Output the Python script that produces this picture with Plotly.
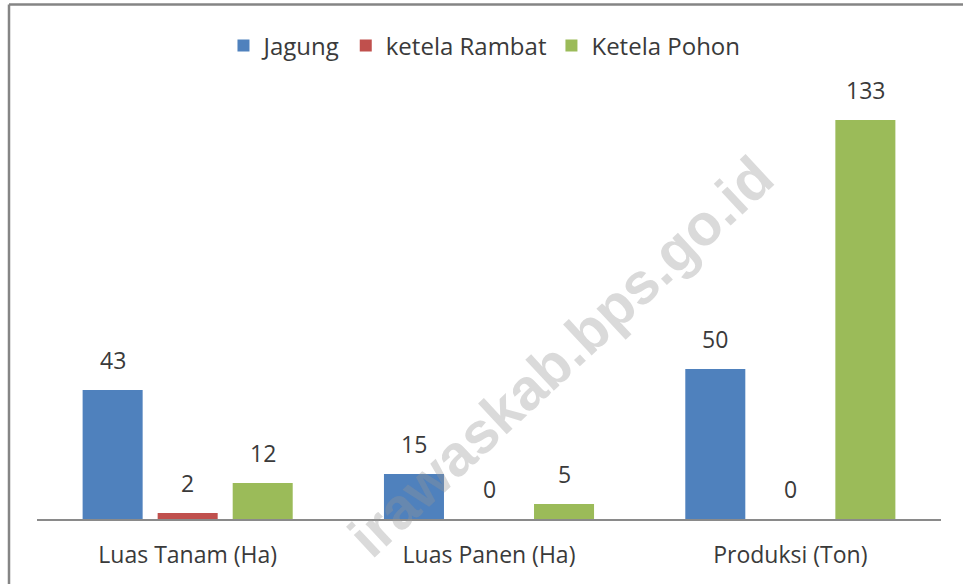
import plotly.graph_objects as go

categories = ["Luas Tanam (Ha)", "Luas Panen (Ha)", "Produksi (Ton)"]
series_names = ["Jagung", "ketela Rambat", "Ketela Pohon"]
jagung = [43, 15, 50]
ketela_rambat = [2, 0, 0]
ketela_pohon = [12, 5, 133]
series_values = [jagung, ketela_rambat, ketela_pohon]
colors = ["#4F81BD", "#C0504D", "#9BBB59"]

W, H = 963, 584
ml, mr, mt, mb = 37, 22, 99, 65
pw, ph = W - ml - mr, H - mt - mb

def px_x(x):
    return (x - ml) / pw

def px_y(y):
    return (H - mb - y) / ph

FONT = "Open Sans, Liberation Sans, sans-serif"
TXT = "#3a3a3a"

fig = go.Figure()
for name, vals, col in zip(series_names, series_values, colors):
    fig.add_trace(go.Bar(name=name, x=categories, y=vals, marker=dict(color=col, line=dict(width=0))))

# data labels
cat_w = pw / len(categories)
bargap = 0.253
slot = cat_w * (1 - bargap) / 3
for i, vals in enumerate(series_values):
    for c, v in zip(categories, vals):
        fig.add_annotation(x=c, y=v, xref="x", yref="y", text=str(v), showarrow=False,
                           xanchor="center", yanchor="bottom", xshift=(i - 1) * slot, yshift=12,
                           font=dict(family=FONT, size=23, color=TXT))

# watermark (visible part)
fig.add_annotation(x=px_x(560), y=px_y(356), xref="paper", yref="paper",
                   text="<b>irawaskab.bps.go.id</b>", showarrow=False, textangle=-43,
                   xanchor="center", yanchor="middle",
                   font=dict(family="Liberation Sans, Arial, sans-serif", size=58, color="rgba(150,150,150,0.35)"))

# frame borders
border = dict(color="#858585", width=2.5)
fig.add_shape(type="line", xref="paper", yref="paper", x0=px_x(9), x1=px_x(W + 5), y0=px_y(4.5), y1=px_y(4.5), line=border)
fig.add_shape(type="line", xref="paper", yref="paper", x0=px_x(9), x1=px_x(9), y0=px_y(4.5), y1=px_y(H + 5), line=border)

fig.update_layout(
    width=W, height=H,
    margin=dict(l=ml, r=mr, t=mt, b=mb, pad=0),
    paper_bgcolor="white", plot_bgcolor="white",
    barmode="group", bargap=bargap, bargroupgap=0.2,
    font=dict(family=FONT, size=22, color=TXT),
    showlegend=True,
    legend=dict(orientation="h", x=0.495, xanchor="center", y=px_y(46), yanchor="middle",
                font=dict(family=FONT, size=24, color=TXT), itemwidth=30, traceorder="normal"),
    xaxis=dict(showline=True, linecolor="#8a8a8a", linewidth=1.5, ticks="", showgrid=False,
               tickfont=dict(family=FONT, size=23, color=TXT), ticklabelstandoff=15, zeroline=False),
    yaxis=dict(range=[0, ph / 3.0], visible=False, showgrid=False, zeroline=False),
)

fig.write_html("out.html", config={"displayModeBar": False},
               post_script="document.body.style.margin='0';document.body.style.padding='0';")
